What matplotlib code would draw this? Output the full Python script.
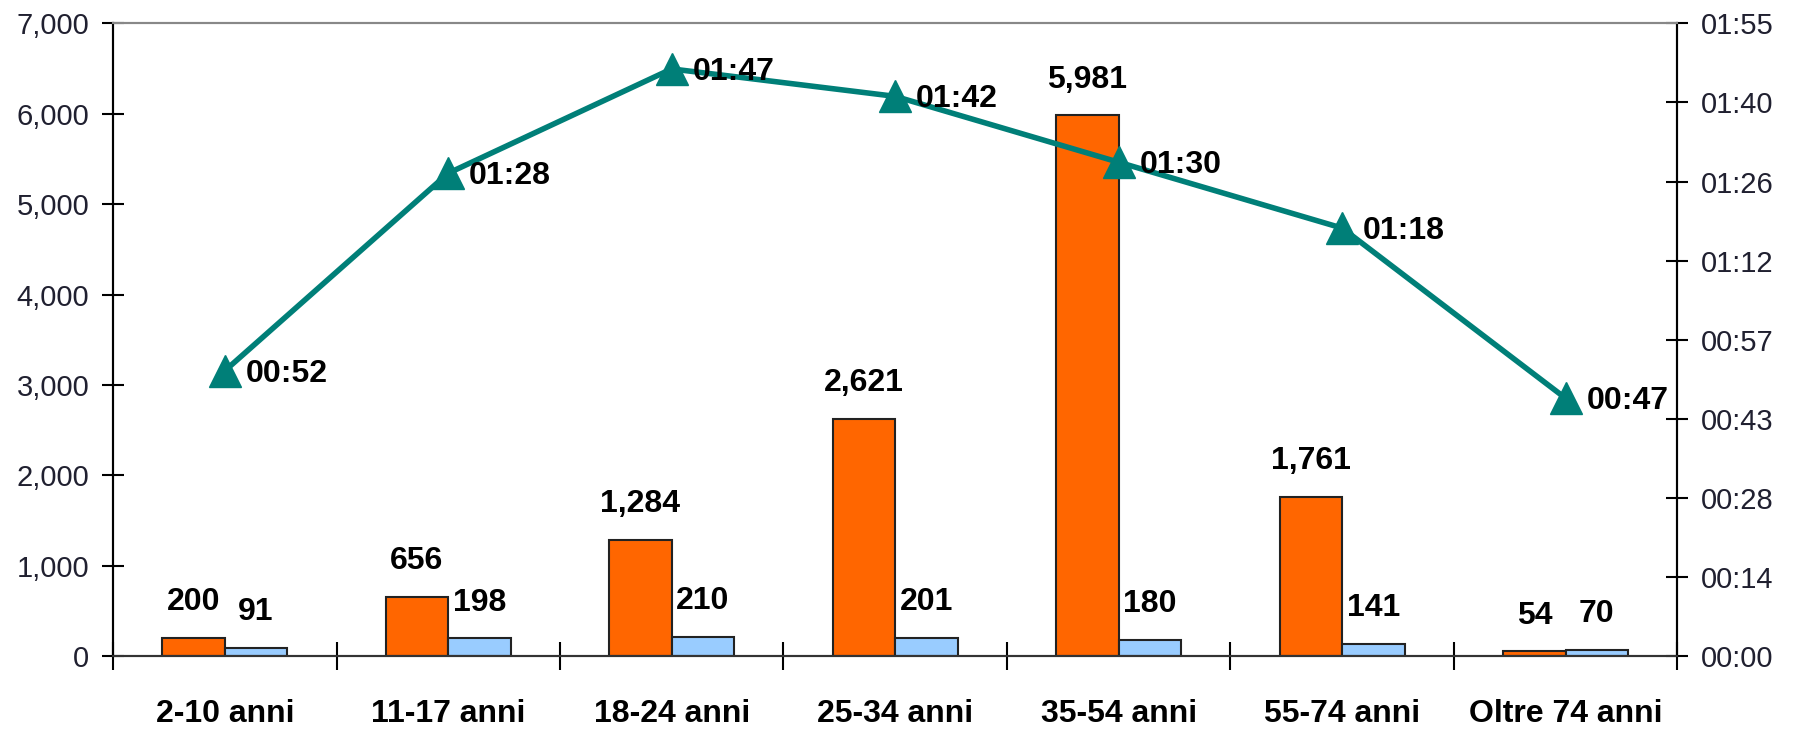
import numpy as np
import matplotlib
matplotlib.use("Agg")
import matplotlib.pyplot as plt
from matplotlib.ticker import FuncFormatter, FixedLocator

plt.rcParams["font.family"] = ["Liberation Sans", "DejaVu Sans"]

# data
categories = ["2-10 anni", "11-17 anni", "18-24 anni", "25-34 anni",
              "35-54 anni", "55-74 anni", "Oltre 74 anni"]
orange_vals = [200, 656, 1284, 2621, 5981, 1761, 54]
blue_vals = [91, 198, 210, 201, 180, 141, 70]
# time per category, in seconds (mm:ss on the right axis)
time_secs = [52, 88, 107, 102, 90, 78, 47]
right_tick_labels = ["00:00", "00:14", "00:28", "00:43", "00:57",
                     "01:12", "01:26", "01:40", "01:55"]
right_max = 115.3

ORANGE = "#FF6600"
BLUE = "#99CCFF"
TEAL = "#007F78"

fig = plt.figure(figsize=(17.94, 7.30), dpi=100)
ax = fig.add_axes([0.063, 0.101, 0.872, 0.867])
ax2 = ax.twinx()

x = np.arange(len(categories))
w = 0.28
ax.bar(x - w / 2, orange_vals, w, color=ORANGE, edgecolor="#222222", linewidth=1.5, zorder=2)
ax.bar(x + w / 2, blue_vals, w, color=BLUE, edgecolor="#222222", linewidth=1.5, zorder=2)

for xi, v in zip(x - w / 2, orange_vals):
    ax.annotate(f"{v:,}", (xi, v), xytext=(0, 15), textcoords="offset points",
                ha="center", va="bottom", fontsize=23, fontweight="bold")
for xi, v in zip(x + w / 2, blue_vals):
    ax.annotate(f"{v:,}", (xi, v), xytext=(0, 15), textcoords="offset points",
                ha="center", va="bottom", fontsize=23, fontweight="bold")

ax.set_xlim(-0.5, len(categories) - 0.5)
ax.set_ylim(0, 7000)
ax.set_yticks(np.arange(0, 7001, 1000))
ax.yaxis.set_major_formatter(FuncFormatter(lambda v, p: f"{int(v):,}"))
ax.tick_params(axis="y", direction="inout", length=16, width=1.5, pad=9,
               labelsize=21, labelcolor="#202030")

ax.set_xticks(x)
ax.set_xticklabels(categories, fontsize=23, fontweight="bold")
ax.xaxis.set_minor_locator(FixedLocator(np.arange(-0.5, len(categories), 1.0)))
ax.tick_params(axis="x", which="major", length=0, pad=31)
ax.tick_params(axis="x", which="minor", direction="inout", length=20, width=1.5)

ax2.plot(x, time_secs, color=TEAL, linewidth=4, marker="^", markersize=23,
         zorder=3, clip_on=False)
for xi, s in zip(x, time_secs):
    ax2.annotate(f"{s // 60:02d}:{s % 60:02d}", (xi, s), xytext=(15, -2),
                 textcoords="offset points", ha="left", va="center",
                 fontsize=23, fontweight="bold")
ax2.set_ylim(0, right_max)
ax2.set_yticks(np.linspace(0, right_max, len(right_tick_labels)))
ax2.set_yticklabels(right_tick_labels)
ax2.tick_params(axis="y", direction="inout", length=16, width=1.5, pad=9,
                labelsize=21, labelcolor="#202030")

for a in (ax, ax2):
    a.spines["top"].set_color("#888888")
    a.spines["top"].set_linewidth(1.5)
    a.spines["left"].set_linewidth(1.5)
    a.spines["right"].set_linewidth(1.5)
    a.spines["bottom"].set_linewidth(1.5)
    a.spines["bottom"].set_color("#333333")

ax.set_zorder(ax2.get_zorder() - 1)
ax.patch.set_visible(False)

fig.savefig("out.png", dpi=100)
